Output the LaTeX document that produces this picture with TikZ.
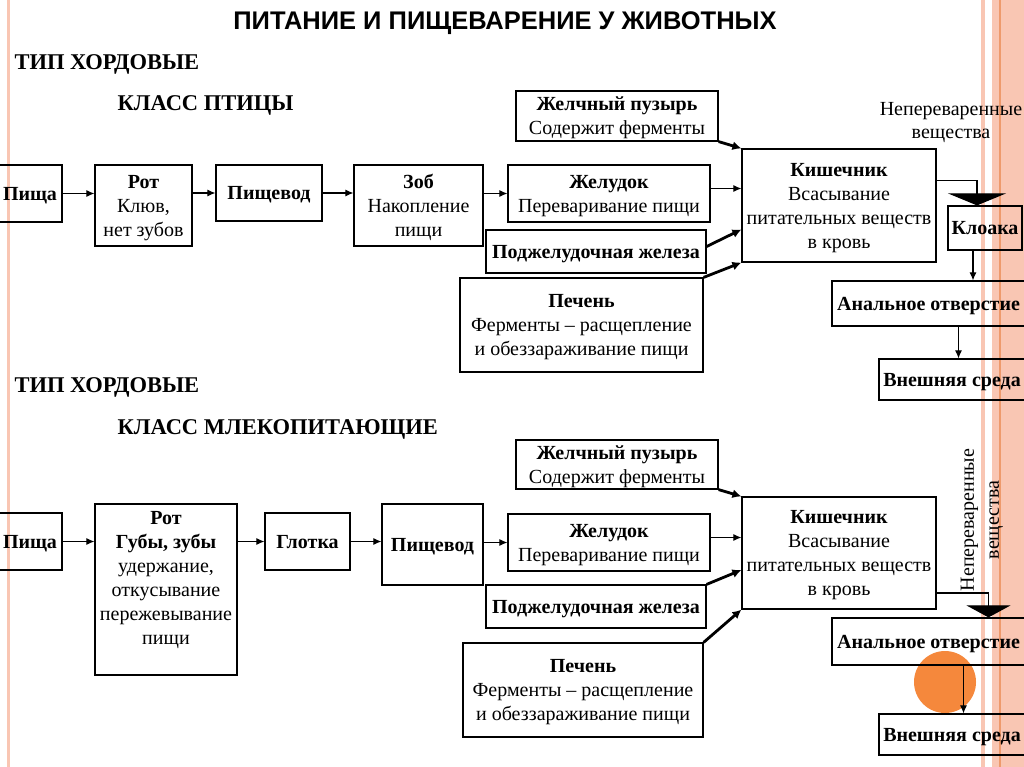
\documentclass[tikz,border=0pt]{standalone}
\usepackage{fontspec}
\setmainfont{Liberation Serif}
\newfontfamily\headfont{Liberation Sans}
\usetikzlibrary{arrows.meta}
\definecolor{stripe}{HTML}{F9C6B3}
\definecolor{stripedark}{HTML}{EE9A6C}
\definecolor{blob}{HTML}{F5883C}
\tikzset{
  organ/.style={draw, line width=1.2pt, align=center, inner sep=1pt, text depth=-5pt, font=\fontsize{20}{24}\selectfont},
  flow/.style={-{Latex[length=8pt,width=7pt]}, line width=1.1pt},
  duct/.style={-{Latex[length=9pt,width=9pt]}, line width=2.8pt},
  waste/.style={-{Triangle[length=12pt,width=#1]}, line width=1.1pt},
  heading/.style={anchor=west, font=\bfseries\fontsize{22.5}{26}\selectfont},
}
\begin{document}
\begin{tikzpicture}[x=1pt,y=-1pt]
  \useasboundingbox (0,0) rectangle (1024,767);
  \fill[stripe] (7,0) rectangle (10,767);
  \fill[stripe] (981,0) rectangle (985,767);
  \fill[stripe] (992,0) rectangle (1024,767);
  \draw[stripedark, line width=1.5pt] (1000,0) -- (1000,767);
  \fill[blob] (945,682) circle[radius=31pt];

  \node[font=\headfont\bfseries\fontsize{25.5}{30}\selectfont] (title) at (505,23) {ПИТАНИЕ И ПИЩЕВАРЕНИЕ У ЖИВОТНЫХ};
  \node[heading] (tip1) at (11,64) {ТИП ХОРДОВЫЕ};
  \node[heading] (klass1) at (114,105) {КЛАСС ПТИЦЫ};
  \node[heading] (tip2) at (11,387) {ТИП ХОРДОВЫЕ};
  \node[heading] (klass2) at (114,429) {КЛАСС МЛЕКОПИТАЮЩИЕ};

  \node[organ, minimum width=64, minimum height=57] (pishcha1) at (30,193.5) {\textbf{Пища}};
  \node[organ, minimum width=97, minimum height=81] (rot1) at (143.5,205.5) {\textbf{Рот}\\Клюв,\\нет зубов};
  \node[organ, minimum width=106, minimum height=56] (pishchevod1) at (269,193) {\textbf{Пищевод}};
  \node[organ, minimum width=129, minimum height=81] (zob1) at (418.5,205.5) {\textbf{Зоб}\\Накопление\\пищи};
  \node[organ, minimum width=202, minimum height=57] (zheludok1) at (609,193.5) {\textbf{Желудок}\\Переваривание пищи};
  \node[organ, minimum width=202, minimum height=50] (puzyr1) at (617,116) {\textbf{Желчный пузырь}\\Содержит ферменты};
  \node[organ, minimum width=194, minimum height=113] (kishechnik1) at (839,205.5) {\textbf{Кишечник}\\Всасывание\\питательных веществ\\в кровь};
  \node[organ, minimum width=220, minimum height=43] (zheleza1) at (596,251.5) {\textbf{Поджелудочная железа}};
  \node[organ, minimum width=243, minimum height=94] (pechen1) at (581.5,325) {\textbf{Печень}\\Ферменты -- расщепление\\и обеззараживание пищи};
  \node[organ, minimum width=74, minimum height=44] (kloaka) at (985,228) {\textbf{Клоака}};
  \node[organ, minimum width=193, minimum height=45] (anal1) at (928.5,303.5) {\textbf{Анальное отверстие}};
  \node[organ, minimum width=146, minimum height=41] (sreda1) at (952,379.5) {\textbf{Внешняя среда}};
  \node[font=\fontsize{20}{23}\selectfont, align=center] (ostatki1) at (951,123) {Непереваренные\\вещества};

  \draw[flow] (pishcha1.east) -- (pishcha1.east -| rot1.west);
  \draw[flow] (rot1.east |- pishchevod1) -- (pishchevod1.west);
  \draw[flow] (pishchevod1.east) -- (pishchevod1.east -| zob1.west);
  \draw[flow] (zob1.east |- zheludok1) -- (zheludok1.west);
  \draw[flow] ([yshift=5pt]zheludok1.east) -- ([yshift=5pt]zheludok1.east -| kishechnik1.west);
  \draw[duct] (puzyr1.south east) -- (kishechnik1.north west);
  \draw[duct] ([yshift=5pt]zheleza1.east) -- ([yshift=-24pt]kishechnik1.west);
  \draw[duct] (pechen1.north east) -- (kishechnik1.south west);
  \draw[waste=58pt] ([yshift=25pt]kishechnik1.east) -| ([xshift=-8pt]kloaka.north);
  \draw[flow] ([xshift=-12pt]kloaka.south) -- ([xshift=-12pt]kloaka.south |- anal1.north);
  \draw[flow] ([xshift=30pt]anal1.south) -- ([xshift=30pt]anal1.south |- sreda1.north);

  \node[organ, minimum width=64, minimum height=57] (pishcha2) at (30,541.5) {\textbf{Пища}};
  \node[organ, minimum width=142, minimum height=171] (rot2) at (166,589.5) {\textbf{Рот}\\\textbf{Губы, зубы}\\удержание,\\откусывание\\пережевывание\\пищи\\\mbox{}};
  \node[organ, minimum width=85, minimum height=57] (glotka) at (307.5,541.5) {\textbf{Глотка}};
  \node[organ, minimum width=101, minimum height=81] (pishchevod2) at (432.5,544.5) {\textbf{Пищевод}};
  \node[organ, minimum width=202, minimum height=57] (zheludok2) at (609,542.5) {\textbf{Желудок}\\Переваривание пищи};
  \node[organ, minimum width=202, minimum height=49] (puzyr2) at (617,464.5) {\textbf{Желчный пузырь}\\Содержит ферменты};
  \node[organ, minimum width=194, minimum height=112] (kishechnik2) at (839,553) {\textbf{Кишечник}\\Всасывание\\питательных веществ\\в кровь};
  \node[organ, minimum width=220, minimum height=43] (zheleza2) at (596,606.5) {\textbf{Поджелудочная железа}};
  \node[organ, minimum width=240, minimum height=94] (pechen2) at (583,690) {\textbf{Печень}\\Ферменты -- расщепление\\и обеззараживание пищи};
  \node[organ, minimum width=193, minimum height=47] (anal2) at (928.5,641.5) {\textbf{Анальное отверстие}};
  \node[organ, minimum width=146, minimum height=41] (sreda2) at (952,734.5) {\textbf{Внешняя среда}};
  \node[font=\fontsize{20}{25}\selectfont, align=center, rotate=90] (ostatki2) at (982,520) {Непереваренные\\вещества};

  \draw[flow] (pishcha2.east) -- (pishcha2.east -| rot2.west);
  \draw[flow] (rot2.east |- glotka) -- (glotka.west);
  \draw[flow] (glotka.east) -- (glotka.east -| pishchevod2.west);
  \draw[flow] (pishchevod2.east |- zheludok2) -- (zheludok2.west);
  \draw[flow] ([yshift=5pt]zheludok2.east) -- ([yshift=5pt]zheludok2.east -| kishechnik2.west);
  \draw[duct] (puzyr2.south east) -- (kishechnik2.north west);
  \draw[duct] (zheleza2.north east) -- ([yshift=-17pt]kishechnik2.west);
  \draw[duct] (pechen2.north east) -- (kishechnik2.south west);
  \draw[waste=44pt] ([yshift=-40pt]kishechnik2.east) -| ([xshift=60pt]anal2.north);
  \draw[flow] ([xshift=35pt]anal2.south) -- ([xshift=35pt]anal2.south |- sreda2.north);
\end{tikzpicture}
\end{document}
